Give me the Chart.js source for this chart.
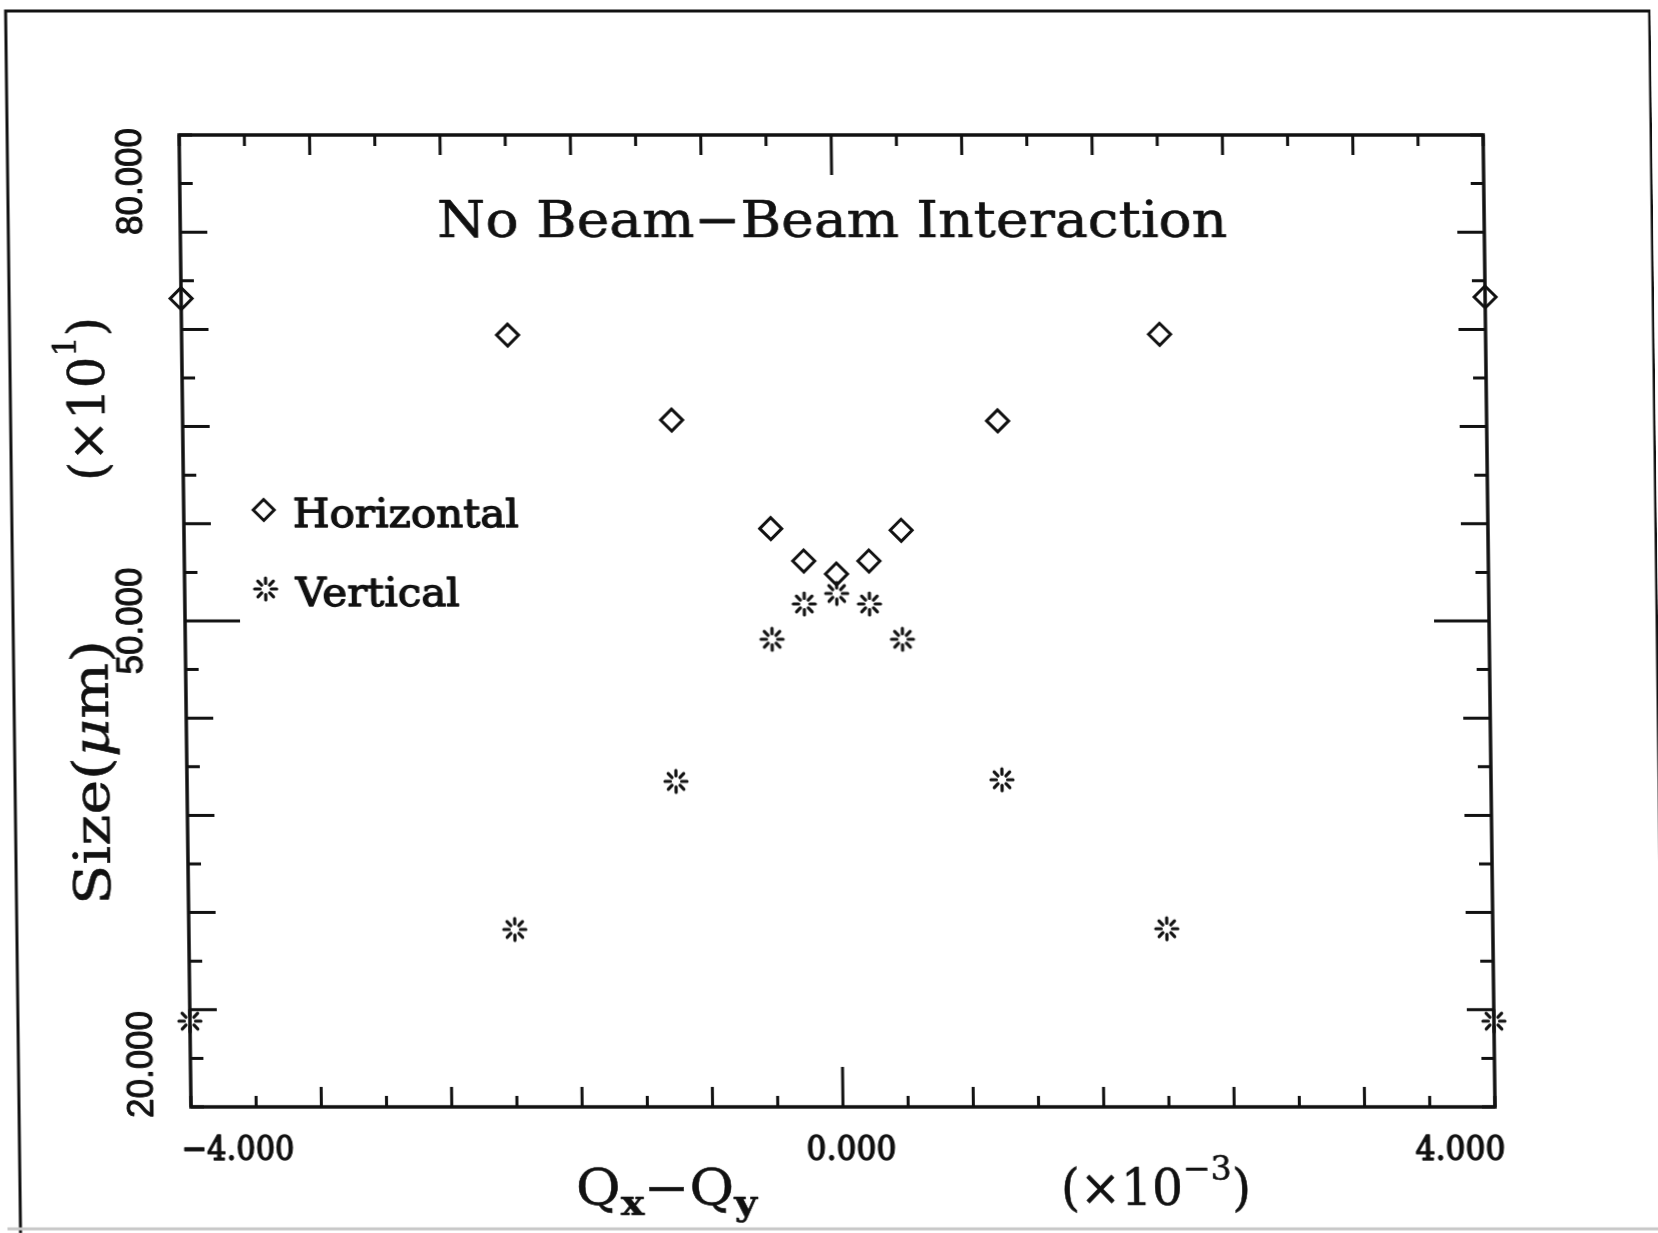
<!DOCTYPE html>
<html><head><meta charset="utf-8">
<script src="https://cdn.jsdelivr.net/npm/chart.js@4.4.1/dist/chart.umd.min.js"></script>
<style>
html,body{margin:0;padding:0;background:#fff;overflow:hidden;width:1658px;height:1233px;}
#c{display:block;transform:skewX(0.7deg);transform-origin:829px 616px;}
</style></head><body>
<canvas id="c" width="1658" height="1233"></canvas>
<script>
// ---- data ----
const qDiff = [-4.0, -2.0, -1.0, -0.4, -0.2, 0.0, 0.2, 0.4, 1.0, 2.0, 4.0];
const sizeHorizontal = [69.9, 67.65, 62.4, 55.7, 53.7, 52.9, 53.7, 55.6, 62.35, 67.7, 70.0];
const sizeVertical = [25.3, 30.96, 40.1, 48.87, 51.05, 51.7, 51.05, 48.87, 40.2, 31.0, 25.3];
const seriesNames = ['Horizontal', 'Vertical'];
const chartTitle = 'No Beam\u2212Beam Interaction';

// ---- axes / ticks ----
const xMin = -4, xMax = 4, yMin = 20, yMax = 80;
const xTickValues = [-4.0,-3.6,-3.2,-2.8,-2.4,-2.0,-1.6,-1.2,-0.8,-0.4,0.0,0.4,0.8,1.2,1.6,2.0,2.4,2.8,3.2,3.6,4.0];
const xMajorTicks = [-3.2,-2.4,-1.6,-0.8,0.8,1.6,2.4,3.2];
const xCenterTick = [0.0];
const xLabelValues = [-4, 0, 4];
const xTickLabels = ['\u22124.000', '0.000', '4.000'];
const yTickValues = [20,23,26,29,32,35,38,41,44,47,50,53,56,59,62,65,68,71,74,77,80];
const yMajorTicks = [26,32,38,44,56,62,68,74];
const yCenterTick = [50];
const yLabelValues = [20, 50, 80];
const yTickLabels = ['20.000', '50.000', '80.000'];

// star marker (broken asterisk) as a canvas point style
function makeStar(){
  const s = document.createElement('canvas');
  s.width = 30; s.height = 30;
  const g = s.getContext('2d');
  g.strokeStyle = '#111'; g.lineWidth = 3.2; g.lineCap = 'round';
  for (let k = 0; k < 8; k++){
    const a = k * Math.PI / 4;
    g.beginPath();
    g.moveTo(15 + 5.6*Math.cos(a), 15 + 5.6*Math.sin(a));
    g.lineTo(15 + 11.0*Math.cos(a), 15 + 11.0*Math.sin(a));
    g.stroke();
  }
  return s;
}
const starImg = makeStar();

const SERIF = '"DejaVu Serif", "Liberation Serif", serif';
const SANS = '"Liberation Sans", Arial, sans-serif';

// draws runs of text scaled horizontally to a target width; optional stroke thickening
function drawRuns(ctx, runs, x, y, targetW, align, rot, thick){
  ctx.save();
  let total = 0;
  runs.forEach(r => { ctx.font = r.font; r.w = ctx.measureText(r.t).width; total += r.w; });
  const s = targetW ? targetW / total : 1;
  ctx.translate(x, y);
  if (rot) ctx.rotate(rot);
  ctx.scale(s, 1);
  let cx = align === 'left' ? 0 : align === 'center' ? -total/2 : -total;
  ctx.fillStyle = '#111';
  ctx.strokeStyle = '#111';
  ctx.lineJoin = 'round';
  ctx.textBaseline = 'alphabetic';
  ctx.textAlign = 'left';
  runs.forEach(r => {
    ctx.font = r.font;
    ctx.fillText(r.t, cx, r.dy || 0);
    if (thick) { ctx.lineWidth = thick; ctx.strokeText(r.t, cx, r.dy || 0); }
    cx += r.w;
  });
  ctx.restore();
}
const has = (arr, v) => arr.some(a => Math.abs(a - v) < 1e-6);

const framePlugin = {
  id: 'frame',
  beforeDatasetsDraw(chart){
    const ctx = chart.ctx, a = chart.chartArea;
    const xs = chart.scales.x, ys = chart.scales.y;
    ctx.save();
    // outer page frame
    ctx.strokeStyle = '#111'; ctx.lineWidth = 3;
    ctx.beginPath();
    ctx.moveTo(13, 1240); ctx.lineTo(13, 11); ctx.lineTo(1657, 11); ctx.lineTo(1657, 1240);
    ctx.stroke();
    ctx.strokeStyle = '#c8c8c8'; ctx.lineWidth = 3;
    ctx.beginPath(); ctx.moveTo(0, 1229); ctx.lineTo(1658, 1229); ctx.stroke();
    // plot box
    ctx.strokeStyle = '#111'; ctx.lineWidth = 3.5;
    ctx.strokeRect(a.left, a.top, a.right - a.left, a.bottom - a.top);
    // ticks pointing inward on all four sides
    ctx.lineWidth = 3;
    xTickValues.forEach(v => {
      const px = xs.getPixelForValue(v);
      const len = has(xCenterTick, v) ? 40 : has(xMajorTicks, v) ? 20 : 11;
      ctx.beginPath();
      ctx.moveTo(px, a.bottom); ctx.lineTo(px, a.bottom - len);
      ctx.moveTo(px, a.top); ctx.lineTo(px, a.top + len);
      ctx.stroke();
    });
    yTickValues.forEach(v => {
      const py = ys.getPixelForValue(v);
      const len = has(yCenterTick, v) ? 55 : has(yMajorTicks, v) ? 27 : 13;
      ctx.beginPath();
      ctx.moveTo(a.left, py); ctx.lineTo(a.left + len, py);
      ctx.moveTo(a.right, py); ctx.lineTo(a.right - len, py);
      ctx.stroke();
    });
    ctx.restore();
  },
  afterDraw(chart){
    const ctx = chart.ctx, a = chart.chartArea;
    const xs = chart.scales.x, ys = chart.scales.y;
    // x tick labels
    xLabelValues.forEach((v, i) => {
      const px = xs.getPixelForValue(v);
      const runs = [{t: xTickLabels[i], font: '34px ' + SERIF}];
      if (i === 0) drawRuns(ctx, runs, px - 10, 1160, 113, 'left', 0, 1.4);
      else if (i === xLabelValues.length - 1) drawRuns(ctx, runs, px + 10, 1160, 90, 'right', 0, 1.4);
      else drawRuns(ctx, runs, px + 8, 1160, 90, 'center', 0, 1.4);
    });
    // y tick labels (rotated, reading upward)
    yLabelValues.forEach((v, i) => {
      const py = ys.getPixelForValue(v);
      const runs = [{t: yTickLabels[i], font: '36px ' + SANS}];
      if (i === 0) drawRuns(ctx, runs, 147, py + 11, 107, 'left', -Math.PI/2, 1.0);
      else if (i === yLabelValues.length - 1) drawRuns(ctx, runs, 147, py - 7, 107, 'right', -Math.PI/2, 1.0);
      else drawRuns(ctx, runs, 142, py, 107, 'center', -Math.PI/2, 1.0);
    });
    // title inside the plot
    drawRuns(ctx, [{t: chartTitle, font: '50px ' + SERIF}], (a.left + a.right)/2, 237, 790, 'center', 0, 0.6);
    // legend
    ctx.save();
    ctx.strokeStyle = '#111'; ctx.lineWidth = 3;
    ctx.beginPath();
    const lx = 265, ly = 510, lr = 10.5;
    ctx.moveTo(lx, ly - lr); ctx.lineTo(lx + lr, ly); ctx.lineTo(lx, ly + lr); ctx.lineTo(lx - lr, ly); ctx.closePath();
    ctx.stroke();
    ctx.drawImage(starImg, 266 - starImg.width/2, 589 - starImg.height/2);
    ctx.restore();
    drawRuns(ctx, [{t: seriesNames[0], font: '40px ' + SERIF}], 294, 527, 226, 'left', 0, 1.3);
    drawRuns(ctx, [{t: seriesNames[1], font: '40px ' + SERIF}], 296, 606, 164, 'left', 0, 1.3);
    // x axis title
    drawRuns(ctx, [
      {t: 'Q', font: '50px ' + SERIF},
      {t: 'x', font: 'bold 36px ' + SERIF, dy: 10},
      {t: '\u2212', font: '50px ' + SERIF},
      {t: 'Q', font: '50px ' + SERIF},
      {t: 'y', font: 'bold 36px ' + SERIF, dy: 10}
    ], 569, 1205, 181, 'left', 0, 0.5);
    drawRuns(ctx, [
      {t: '(\u00d710', font: '50px ' + SERIF},
      {t: '\u22123', font: '34px ' + SERIF, dy: -25},
      {t: ')', font: '50px ' + SERIF}
    ], 1054, 1205, 190, 'left', 0, 0.5);
    // y axis title (rotated)
    drawRuns(ctx, [
      {t: 'Size(', font: '50px ' + SERIF},
      {t: '\u03bc', font: 'italic 50px ' + SERIF},
      {t: 'm)', font: '50px ' + SERIF}
    ], 107, 905, 265, 'left', -Math.PI/2, 0.5);
    drawRuns(ctx, [
      {t: '(\u00d710', font: '50px ' + SERIF},
      {t: '1', font: '32px ' + SERIF, dy: -28},
      {t: ')', font: '50px ' + SERIF}
    ], 107, 481, 164, 'left', -Math.PI/2, 0.5);
  }
};

new Chart(document.getElementById('c'), {
  type: 'scatter',
  data: {
    datasets: [
      {
        label: seriesNames[0],
        data: qDiff.map((q, i) => ({x: q, y: sizeHorizontal[i]})),
        pointStyle: 'rectRot', pointRadius: 11, pointBorderWidth: 3,
        borderColor: '#111', backgroundColor: 'rgba(0,0,0,0)', clip: false
      },
      {
        label: seriesNames[1],
        data: qDiff.map((q, i) => ({x: q, y: sizeVertical[i]})),
        pointStyle: starImg, pointRadius: 12,
        borderColor: '#111', backgroundColor: '#111', clip: false
      }
    ]
  },
  options: {
    responsive: false, animation: false, events: [],
    layout: {padding: {left: 185, right: 169, top: 135, bottom: 126}},
    plugins: {legend: {display: false}, tooltip: {enabled: false}, title: {display: false}},
    scales: {
      x: {type: 'linear', min: xMin, max: xMax, display: false},
      y: {type: 'linear', min: yMin, max: yMax, display: false}
    }
  },
  plugins: [framePlugin]
});
</script>
</body></html>
